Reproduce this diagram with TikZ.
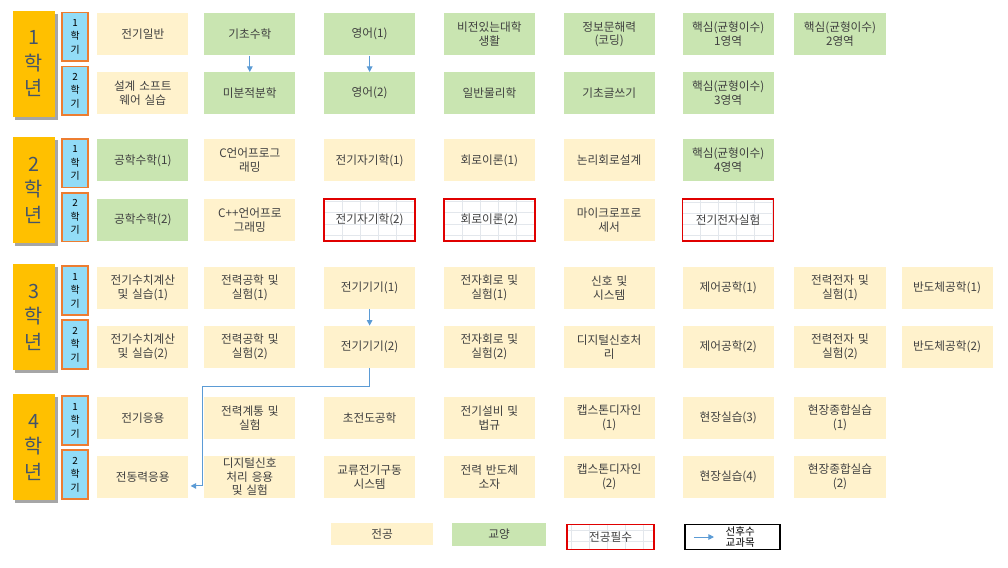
\documentclass[tikz,border=0pt]{standalone}
\usepackage{fontspec}
\setmainfont{Noto Sans CJK KR}
\usetikzlibrary{positioning, calc, matrix, arrows.meta, shadows}

\definecolor{jeongong}{HTML}{FFF2CC}
\definecolor{gyoyang}{HTML}{C9E5B1}
\definecolor{hakbun}{HTML}{FFC000}
\definecolor{hakbuntxt}{HTML}{44546A}
\definecolor{hakgi}{HTML}{92DCF7}
\definecolor{hakgiline}{HTML}{ED7D31}
\definecolor{pilsu}{HTML}{E00000}
\definecolor{pilsugrid}{HTML}{E3E7EC}
\definecolor{seonhu}{HTML}{5B9BD5}
\definecolor{gulja}{HTML}{404040}

\begin{document}
\begin{tikzpicture}[x=0.025cm, y=0.025cm, font=\fontsize{8.3}{9.6}\selectfont, text=gulja,
  yearbox/.style={fill=hakbun, text=hakbuntxt, minimum width=1.05cm, minimum height=2.65cm,
    inner sep=0pt, align=center, font=\fontsize{14}{18}\selectfont,
    drop shadow={shadow xshift=0.07cm, shadow yshift=-0.07cm, fill=black, opacity=0.35}},
  sembox/.style={fill=hakgi, draw=hakgiline, line width=1.1pt, minimum width=0.65cm,
    minimum height=1.22cm, inner sep=0pt, align=center, text=black,
    font=\fontsize{7}{9.6}\selectfont},
  ge/.style={fill=gyoyang},
  req/.style={fill=white, draw=pilsu, line width=1.1pt,
    path picture={\draw[pilsugrid, line width=0.4pt]
      (path picture bounding box.south west) grid[xstep=0.45cm, ystep=0.28cm]
      (path picture bounding box.north east);}},
  prereq/.style={draw=seonhu, line width=0.7pt, -{Triangle[length=0.14cm, width=0.14cm]}},
  keybox/.style={draw=black, line width=1.1pt, minimum width=2.375cm, minimum height=0.625cm,
    inner sep=0pt}]
  \useasboundingbox (0,0) rectangle (1008,-567);

  \matrix (plan) [matrix of nodes, matrix anchor=north west, inner sep=0pt,
          column sep=0.4cm, row sep=0.425cm,
          nodes={fill=jeongong, text width=2.275cm, minimum height=1.05cm,
                 inner sep=0pt, align=center, anchor=center}] at (97,-13)
  {
    전기일반 & |[ge]| 기초수학 &[0.3cm] |[ge]| 영어(1) &[0.28cm] |[ge]| {비전있는대학\\생활} &[0.3cm] |[ge]| {정보문해력\\(코딩)} &[0.28cm] |[ge]| {핵심(균형이수)\\1영역} &[0.1cm] |[ge]| {핵심(균형이수)\\2영역} \\
    {설계 소프트\\웨어 실습} & |[ge]| 미분적분학 & |[ge]| 영어(2) & |[ge]| 일반물리학 & |[ge]| 기초글쓰기 & |[ge]| {핵심(균형이수)\\3영역} \\[0.2cm]
    |[ge]| 공학수학(1) & {C언어프로그\\래밍} & 전기자기학(1) & 회로이론(1) & 논리회로설계 & |[ge]| {핵심(균형이수)\\4영역} \\
    |[ge]| 공학수학(2) & {C++언어프로\\그래밍} & |[req]| 전기자기학(2) & |[req]| 회로이론(2) & {마이크로프로\\세서} & |[req]| 전기전자실험 \\[0.2cm]
    {전기수치계산\\및 실습(1)} & {전력공학 및\\실험(1)} & 전기기기(1) & {전자회로 및\\실험(1)} & {신호 및\\시스템} & 제어공학(1) & {전력전자 및\\실험(1)} & 반도체공학(1) \\
    {전기수치계산\\및 실습(2)} & {전력공학 및\\실험(2)} & 전기기기(2) & {전자회로 및\\실험(2)} & {디지털신호처\\리} & 제어공학(2) & {전력전자 및\\실험(2)} & 반도체공학(2) \\[0.3cm]
    전기응용 & {전력계통 및\\실험} & 초전도공학 & {전기설비 및\\법규} & {캡스톤디자인\\(1)} & 현장실습(3) & {현장종합실습\\(1)} \\
    전동력응용 & {디지털신호\\처리 응용\\및 실험} & {교류전기구동\\시스템} & {전력 반도체\\소자} & {캡스톤디자인\\(2)} & 현장실습(4) & {현장종합실습\\(2)} \\
  };

  \foreach \yr in {1,...,4}{
    \pgfmathtruncatemacro\ra{2*\yr-1}
    \pgfmathtruncatemacro\rb{2*\yr}
    \coordinate (mid\yr) at ($(plan-\ra-1.west)!0.5!(plan-\rb-1.west)$);
    \node[yearbox, left=1.05cm of mid\yr] (yr\yr) {\yr\\학\\년};
    \node[sembox, left=0.2cm of mid\yr, yshift=0.675cm] (s\yr-1) {1\\학\\기};
    \node[sembox, left=0.2cm of mid\yr, yshift=-0.675cm] (s\yr-2) {2\\학\\기};
  }

  \draw[prereq] (plan-1-2) -- (plan-2-2);
  \draw[prereq] (plan-1-3) -- (plan-2-3);
  \draw[prereq] (plan-5-3) -- (plan-6-3);
  \coordinate (ent) at ([xshift=0.05cm, yshift=-0.225cm]plan-8-1.east);
  \coordinate (drop) at ([xshift=0.3cm]ent);
  \draw[prereq] (plan-6-3.south) -- ++(0,-0.45cm) -| (drop) -- (ent);

  \node[fill=jeongong, minimum width=2.525cm, minimum height=0.55cm] (key-maj) at (382,-534) {전공};
  \node[fill=gyoyang, minimum width=2.35cm, minimum height=0.575cm, right=0.475cm of key-maj] (key-lib) {교양};
  \node[req, minimum width=2.175cm, minimum height=0.625cm, right=0.5cm of key-lib, yshift=-0.075cm] (key-req) {전공필수};
  \node[keybox, right=0.725cm of key-req] (key-pre) {};
  \node[font=\fontsize{7.5}{7.8}\selectfont, text=black, align=center, inner sep=0pt] (key-txt)
    at ([xshift=0.2cm]key-pre.center) {선후수\\교과목};
  \coordinate (key-a) at ([xshift=0.25cm]key-pre.west);
  \coordinate (key-b) at ([xshift=0.75cm]key-pre.west);
  \draw[prereq] (key-a) -- (key-b);
\end{tikzpicture}
\end{document}
